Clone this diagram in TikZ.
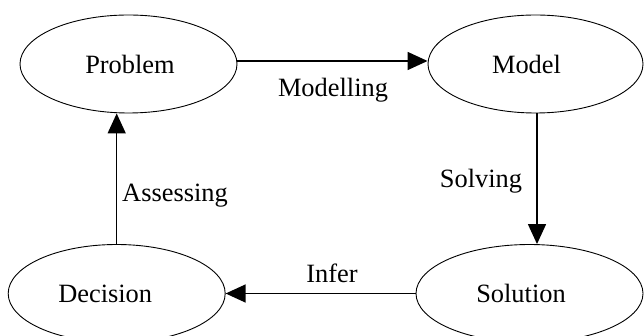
\documentclass[tikz,border=0pt]{standalone}
\usepackage{fontspec}
\setmainfont{Liberation Serif}
\usetikzlibrary{shapes.geometric,arrows.meta}
\tikzset{
  oval/.style={draw=black, line width=0.9pt, ellipse, inner sep=0pt,
    minimum width=217pt, minimum height=98pt,
    font=\fontsize{26.4pt}{30pt}\selectfont},
  lbl/.style={inner sep=0pt, anchor=base,
    font=\fontsize{26.4pt}{30pt}\selectfont},
  arr/.style={draw=black, line width=1.5pt,
    -{Triangle[length=20pt,width=18pt]}}
}
\begin{document}
\begin{tikzpicture}[x=1pt,y=-1pt]
\useasboundingbox (0,0) rectangle (644,336);
\node[oval] (problem) at (128.5,64) {\kern3pt Problem};
\node[oval, minimum width=215pt] (model) at (535.5,64) {Model\kern18pt};
\node[oval, minimum width=227pt] (solution) at (529.5,293.5) {Solution\kern17pt};
\node[oval] (decision) at (116.7,293.5) {Decision\kern23pt};
\draw[arr] ([yshift=3pt]problem.east) -- ([yshift=3pt]model.west);
\draw[arr] ([xshift=1.5pt]model.south) -- ([xshift=1.5pt]model.south |- solution.north);
\draw[arr] (solution.west) -- (decision.east);
\draw[arr] (decision.north) -- (decision.north |- problem.south);
\node[lbl] (modelling) at (333,97) {Modelling};
\node[lbl] (solving) at (481,188) {Solving};
\node[lbl] (assessing) at (175,202) {Assessing};
\node[lbl] (infer) at (332,282) {Infer};
\end{tikzpicture}
\end{document}
